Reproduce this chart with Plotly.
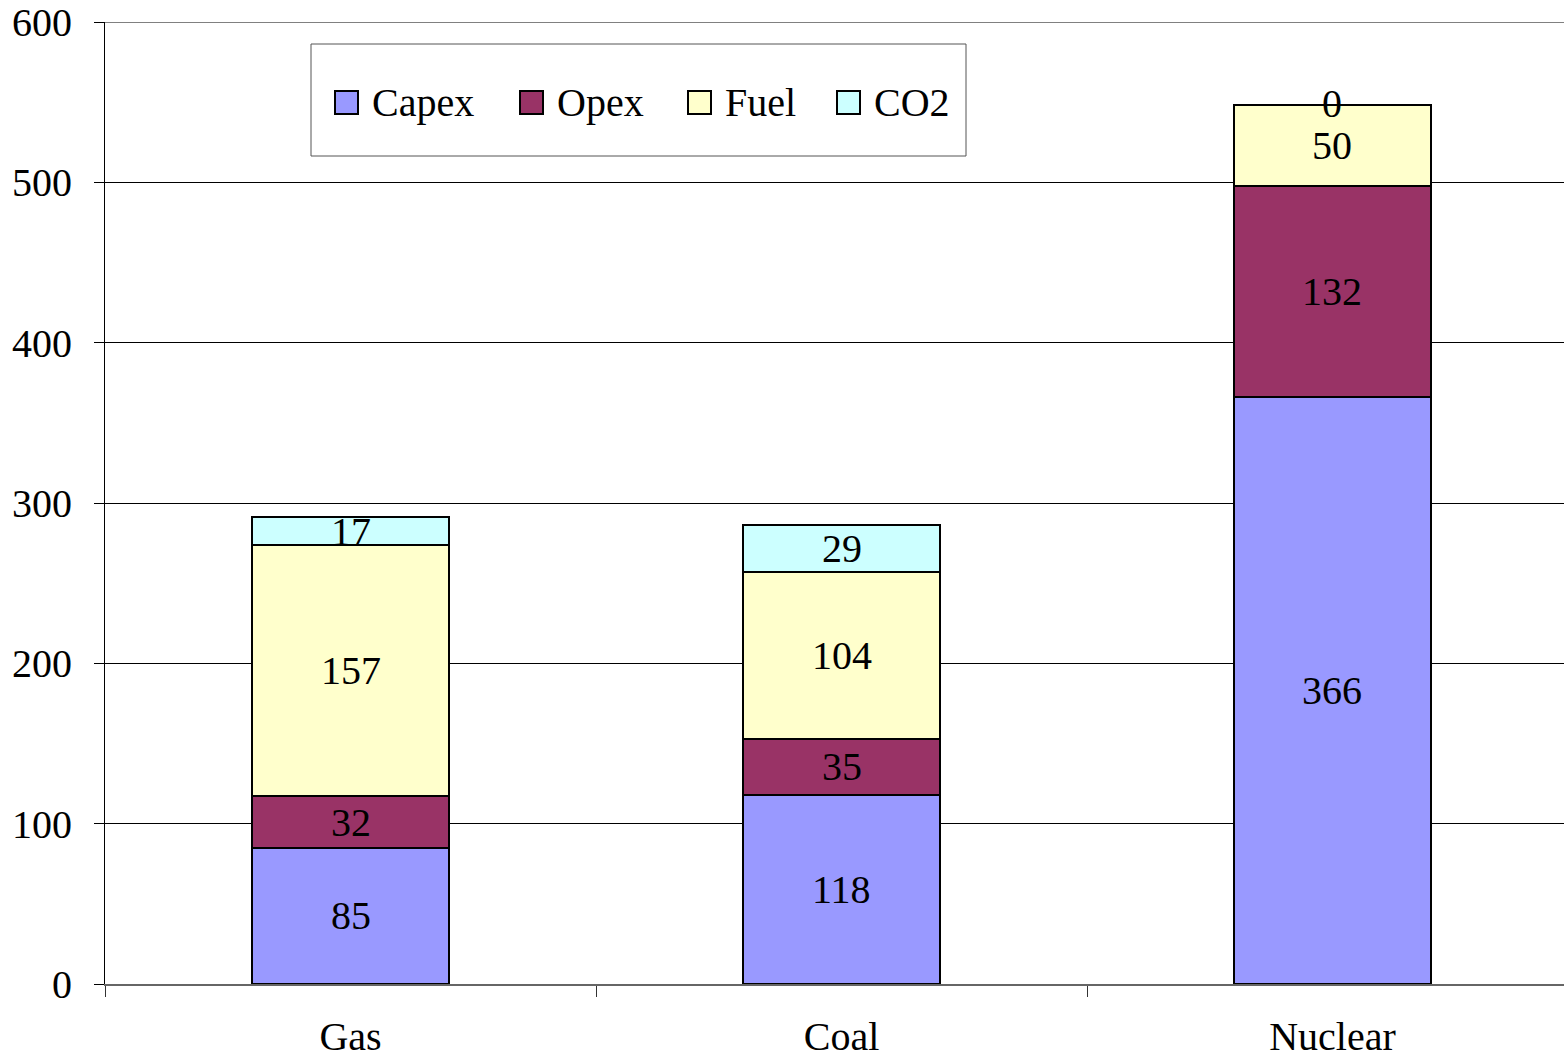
import plotly.graph_objects as go

categories = ["Gas", "Coal", "Nuclear"]
series_names = ["Capex", "Opex", "Fuel", "CO2"]
capex = [85, 118, 366]
opex = [32, 35, 132]
fuel = [157, 104, 50]
co2 = [17, 29, 0]
colors = ["#9999FF", "#993366", "#FFFFCC", "#CCFFFF"]
y_ticks = [0, 100, 200, 300, 400, 500, 600]

FONT = "Liberation Serif, Times New Roman, serif"
FS = 40
values = [capex, opex, fuel, co2]

# plot geometry in screen pixels (page body margin removed below)
W, H = 1564, 1058
PL, PT, PW, PH = 105, 22, 1459, 962


def px_x(x):
    return (x - PL) / PW


def px_y(y):
    return 1 - (y - PT) / PH


fig = go.Figure()
for name, vals, col in zip(series_names, values, colors):
    fig.add_trace(go.Bar(
        x=categories, y=vals, name=name,
        marker=dict(color=col, line=dict(color="black", width=2)),
        width=0.4, textposition="none", showlegend=False,
    ))

# data labels at segment centres
annotations = []
for ci, cat in enumerate(categories):
    base = 0
    for vals in values:
        v = vals[ci]
        annotations.append(dict(
            x=cat, y=base + v / 2, xref="x", yref="y", text=str(v),
            showarrow=False, font=dict(family=FONT, size=FS, color="black"),
            yshift=2 if v == 0 else 0,
        ))
        base += v

# legend (box, swatches, labels)
shapes = [dict(
    type="rect", xref="paper", yref="paper",
    x0=px_x(311), x1=px_x(966), y0=px_y(156), y1=px_y(44),
    line=dict(color="#555555", width=1), fillcolor="white", layer="above",
)]
swatch_x = [335, 520, 688, 837]
for sx, name, col in zip(swatch_x, series_names, colors):
    shapes.append(dict(
        type="rect", xref="paper", yref="paper",
        x0=px_x(sx), x1=px_x(sx + 23), y0=px_y(114), y1=px_y(91),
        line=dict(color="black", width=2), fillcolor=col, layer="above",
    ))
    annotations.append(dict(
        x=px_x(sx + 35), y=px_y(102), xref="paper", yref="paper",
        xanchor="left", yanchor="middle", text=name, showarrow=False,
        font=dict(family=FONT, size=FS, color="black"),
    ))

# top border line at 600 (grey)
shapes.append(dict(
    type="line", xref="paper", yref="y", x0=0, x1=1, y0=600, y1=600,
    line=dict(color="#808080", width=2), layer="below",
))

fig.update_layout(
    width=W, height=H,
    margin=dict(l=PL, r=W - PL - PW, t=PT, b=H - (PT + PH), autoexpand=False),
    barmode="stack",
    plot_bgcolor="white", paper_bgcolor="white",
    font=dict(family=FONT, size=FS, color="black"),
    annotations=annotations,
    shapes=shapes,
    showlegend=False,
    xaxis=dict(
        type="category", range=[-0.5, 2.4715], automargin=False,
        showline=True, linecolor="#666666", linewidth=2,
        ticks="outside", tickson="boundaries", ticklen=11, tickcolor="#333333",
        showgrid=False, ticklabelstandoff=16,
        tickfont=dict(family=FONT, size=FS, color="black"),
    ),
    yaxis=dict(
        range=[0, 600], tickvals=y_ticks, automargin=False,
        showline=True, linecolor="black", linewidth=1,
        ticks="outside", ticklen=10, tickcolor="black",
        showgrid=True, gridcolor="black", gridwidth=1,
        zeroline=False, ticklabelstandoff=14, ticklabeloverflow="allow",
        tickfont=dict(family=FONT, size=FS, color="black"),
    ),
)

fig.write_html(
    "out.html",
    config={"displayModeBar": False},
    post_script="document.body.style.margin='0';document.body.style.overflow='hidden';",
)
